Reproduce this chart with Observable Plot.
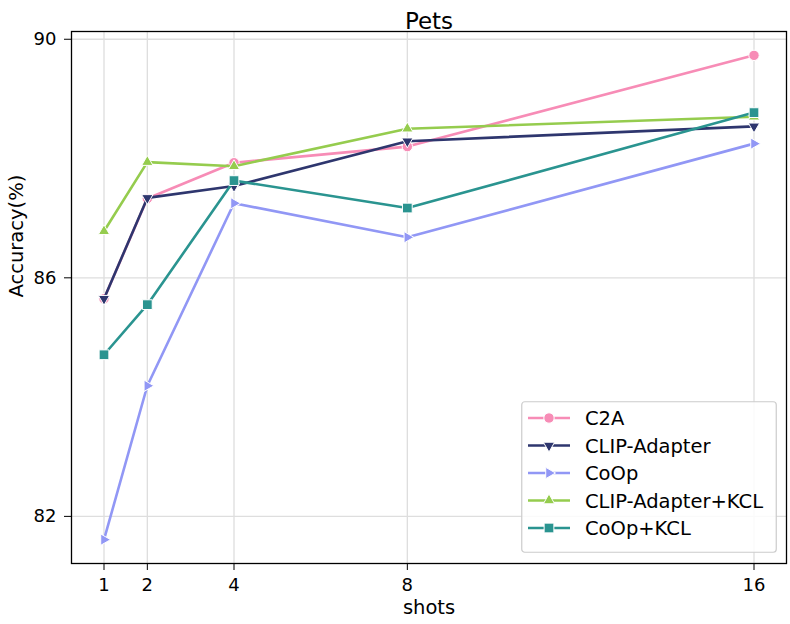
<!DOCTYPE html>
<html>
<head>
<meta charset="utf-8">
<script src="https://cdn.jsdelivr.net/npm/d3@7"></script>
<script src="https://cdn.jsdelivr.net/npm/@observablehq/plot@0.6"></script>
<style>
  body { margin: 0; background: #fff; }
  #wrap { position: relative; width: 790px; height: 624px; font-family: "DejaVu Sans", sans-serif; }
  #legend { position: absolute; left: 521px; top: 401px; }
</style>
</head>
<body>
<div id="wrap"></div>
<script>
const shots = [1, 2, 4, 8, 16];
const seriesNames = ["C2A", "CLIP-Adapter", "CoOp", "CLIP-Adapter+KCL", "CoOp+KCL"];
const c2a = [85.65, 87.33, 87.93, 88.20, 89.73];
const clipAdapter = [85.65, 87.34, 87.54, 88.29, 88.54];
const coop = [81.61, 84.19, 87.25, 86.68, 88.25];
const clipAdapterKcl = [86.78, 87.94, 87.87, 88.50, 88.70];
const coopKcl = [84.71, 85.55, 87.63, 87.17, 88.77];
const xTicks = [1, 2, 4, 8, 16];
const yTicks = [82, 86, 90];
const colors = ["#f78cb6", "#2e366e", "#9197f5", "#95cc4e", "#2a9490"];
const symbols = ["circle", "triangle", "triangle", "triangle", "square"];
const rotations = [0, 180, 90, 0, 0];
const radii = [5.2, 4.2, 4.2, 4.2, 5.5];

const values = [c2a, clipAdapter, coop, clipAdapterKcl, coopKcl];
const series = seriesNames.map((name, i) => ({
  name, color: colors[i], symbol: symbols[i], rotate: rotations[i], r: radii[i],
  data: shots.map((s, j) => ({shot: s, acc: values[i][j]}))
}));

const marks = [
  Plot.gridX(xTicks, {stroke: "#dedede", strokeOpacity: 1, strokeWidth: 1.3}),
  Plot.gridY(yTicks, {stroke: "#dedede", strokeOpacity: 1, strokeWidth: 1.3}),
];
for (const s of series) {
  marks.push(Plot.line(s.data, {x: "shot", y: "acc", stroke: s.color, strokeWidth: 2.6}));
  marks.push(Plot.dot(s.data, {x: "shot", y: "acc", fill: s.color, stroke: "white", strokeWidth: 1,
    symbol: s.symbol, rotate: s.rotate, r: s.r}));
}
marks.push(
  Plot.frame({stroke: "black", strokeWidth: 1.3}),
  Plot.axisX({ticks: xTicks, tickSize: 7, tickPadding: 8, label: null, fontSize: 18, tickFormat: d => String(d)}),
  Plot.axisY({ticks: yTicks, tickSize: 7, tickPadding: 8, label: null, fontSize: 18}),
  Plot.text(["Pets"], {frameAnchor: "top", dy: -19, fontSize: 23, fill: "black"}),
  Plot.text(["shots"], {frameAnchor: "bottom", dy: 50, fontSize: 19.5, fill: "black"}),
  Plot.text(["Accuracy(%)"], {frameAnchor: "left", dx: -55, rotate: -90, fontSize: 19.5, fill: "black"})
);

const chart = Plot.plot({
  width: 790,
  height: 624,
  marginLeft: 71,
  marginRight: 4,
  marginTop: 31,
  marginBottom: 61,
  style: {fontSize: "18px", fontFamily: "DejaVu Sans, sans-serif", color: "black", background: "white"},
  x: {type: "linear", domain: [0.25, 16.75]},
  y: {domain: [81.21, 90.13]},
  marks
});
const wrap = document.getElementById("wrap");
wrap.appendChild(chart);

// legend
const lw = 256, lh = 152;
const leg = d3.select(wrap).append("svg").attr("id", "legend")
  .attr("width", lw).attr("height", lh);
leg.append("rect").attr("x", 0.75).attr("y", 0.75).attr("width", lw - 1.5).attr("height", lh - 1.5)
  .attr("rx", 3).attr("fill", "white").attr("fill-opacity", 0.85)
  .attr("stroke", "#cccccc").attr("stroke-width", 1.2);
const symMap = {circle: d3.symbolCircle, triangle: d3.symbolTriangle, square: d3.symbolSquare};
series.forEach((s, i) => {
  const y = 17 + i * 27.5;
  const g = leg.append("g").attr("transform", `translate(0,${y})`);
  g.append("line").attr("x1", 7).attr("x2", 49).attr("y1", 0).attr("y2", 0)
    .attr("stroke", s.color).attr("stroke-width", 2.6);
  g.append("path")
    .attr("d", d3.symbol(symMap[s.symbol], Math.PI * s.r * s.r)())
    .attr("transform", `translate(28,0) rotate(${s.rotate})`)
    .attr("fill", s.color).attr("stroke", "white").attr("stroke-width", 1);
  g.append("text").attr("x", 64).attr("y", 0).attr("dy", "0.36em")
    .attr("font-size", 19.5).attr("font-family", "DejaVu Sans, sans-serif").attr("fill", "black")
    .text(s.name);
});
</script>
</body>
</html>
